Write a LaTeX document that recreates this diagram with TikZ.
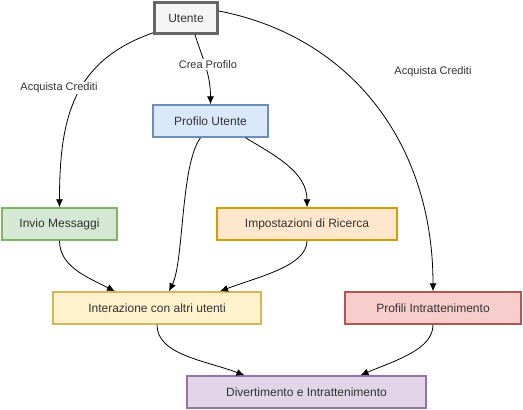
\documentclass[tikz,border=0pt]{standalone}
\usepackage{fontspec}
\setmainfont{Liberation Sans}
\usetikzlibrary{arrows.meta}
\definecolor{txtgray}{HTML}{333333}

\begin{document}
\begin{tikzpicture}[x=1pt, y=-1pt]
		\tikzset{box/.style = {shape=rectangle, draw, line width=1.5pt, inner sep=0pt, minimum height=32pt, text=txtgray, font=\fontsize{12}{14}\selectfont},
			edge/.style = {draw=black, line width=0.8pt, -{Latex[length=8pt,width=7pt]}},
			lbl/.style = {fill=white, inner sep=1pt, text=txtgray, font=\fontsize{11}{13}\selectfont}}
		\tikzset{grey/.style = {box, fill={rgb,255:red,245;green,245;blue,245}, draw={rgb,255:red,102;green,102;blue,102}, line width=2.5pt},
			blue/.style = {box, fill={rgb,255:red,218;green,232;blue,252}, draw={rgb,255:red,108;green,142;blue,191}},
			green/.style = {box, fill={rgb,255:red,213;green,232;blue,212}, draw={rgb,255:red,130;green,179;blue,102}},
			orange/.style = {box, fill={rgb,255:red,255;green,230;blue,204}, draw={rgb,255:red,215;green,155;blue,0}},
			yellow/.style = {box, fill={rgb,255:red,255;green,242;blue,204}, draw={rgb,255:red,214;green,182;blue,86}},
			red/.style = {box, fill={rgb,255:red,248;green,206;blue,204}, draw={rgb,255:red,184;green,84;blue,80}},
			purple/.style = {box, fill={rgb,255:red,225;green,213;blue,231}, draw={rgb,255:red,150;green,115;blue,166}}}
		\useasboundingbox (0,0) rectangle (523,410);
		\node[grey, minimum width=63pt, minimum height=31pt] (utente) at (186, 18) {Utente};
		\node[blue, minimum width=115pt] (profilo) at (210.5, 121) {Profilo Utente};
		\node[green, minimum width=115pt] (invio) at (59.5, 224) {Invio Messaggi};
		\node[orange, minimum width=180pt] (ricerca) at (307, 224) {Impostazioni di Ricerca};
		\node[yellow, minimum width=208pt] (interazione) at (157, 308) {Interazione con altri utenti};
		\node[red, minimum width=176pt] (intratt) at (433, 308) {Profili Intrattenimento};
		\node[purple, minimum width=239pt] (divert) at (306.5, 392) {Divertimento e Intrattenimento};
		%edges
		\draw[edge] ([xshift=9pt]utente.south) .. controls +(8,25) and +(0,-30) .. node[lbl, pos=0.45, xshift=3pt] {Crea Profilo} (profilo.north);
		\draw[edge] ([yshift=2pt]utente.south west) .. controls +(-80,28) and +(0,-90) .. (invio.north);
		\draw[edge] ([yshift=7pt]utente.east) .. controls +(130,25) and +(0,-150) .. (intratt.north);
		\draw[edge] ([xshift=35pt]profilo.south) .. controls +(30,18) and +(0,-35) .. (ricerca.north);
		\draw[edge] ([xshift=-10pt]profilo.south) .. controls +(-20,27) and +(15,-30) .. ([xshift=12pt]interazione.north);
		\draw[edge] (invio.south) .. controls +(0,25) and +(-30,-15) .. ([xshift=-42pt]interazione.north);
		\draw[edge] (ricerca.south) .. controls +(0,25) and +(40,-15) .. ([xshift=63pt]interazione.north);
		\draw[edge] (interazione.south) .. controls +(0,30) and +(-40,-15) .. ([xshift=-62pt]divert.north);
		\draw[edge] (intratt.south) .. controls +(0,25) and +(35,-15) .. ([xshift=54pt]divert.north);
		%labels
		\node[lbl] (acq1) at (59, 88) {Acquista Crediti};
		\node[lbl] (acq2) at (433, 72) {Acquista Crediti};
\end{tikzpicture}
\end{document}
